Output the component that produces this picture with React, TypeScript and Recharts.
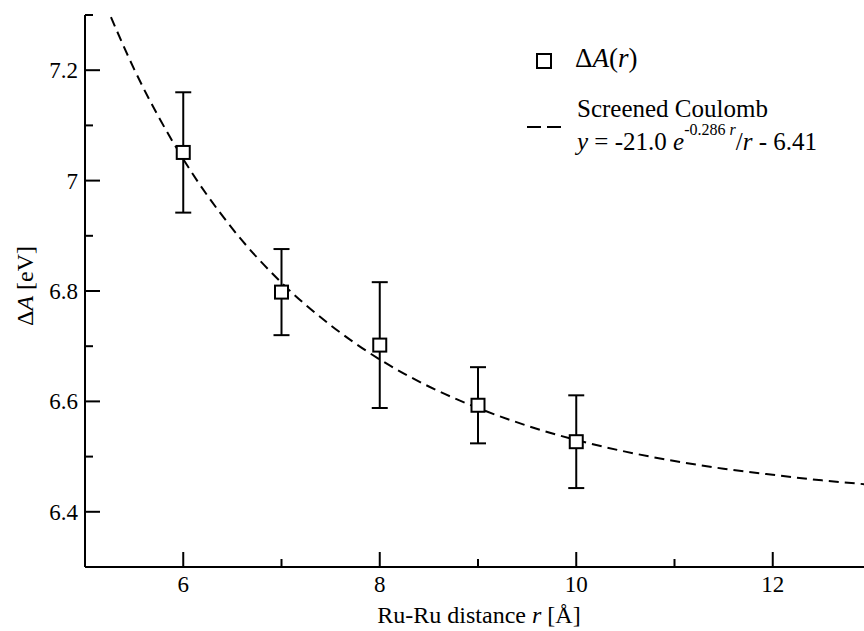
import {
  ComposedChart,
  ErrorBar,
  Line,
  Scatter,
  XAxis,
  YAxis,
} from 'recharts'

// ΔA(r) vs Ru-Ru distance, open squares with error bars, plus the screened
// Coulomb fit as a dashed curve. Grace-style frame: ticks point inward on all
// four sides, the right edge of the frame sits just past the window.

const INK = '#000000'
const SERIF = 'Liberation Serif'

// measured points
const distance = [6, 7, 8, 9, 10]
const deltaA = [7.051, 6.798, 6.702, 6.593, 6.527]
const deltaErr = [0.109, 0.078, 0.114, 0.069, 0.084]

// fit curve
const fitR = [5.2, 5.5, 6, 6.5, 7, 7.5, 8, 8.5, 9, 9.5, 10, 10.5, 11, 11.5, 12, 12.5, 13]
const fitY = [
  7.323, 7.202, 7.039, 6.913, 6.815, 6.738, 6.676, 6.627, 6.588, 6.556, 6.53,
  6.509, 6.492, 6.478, 6.467, 6.457, 6.449,
]

const xTicks = [5, 6, 7, 8, 9, 10, 11, 12, 13]
const yTicks = [6.3, 6.4, 6.5, 6.6, 6.7, 6.8, 6.9, 7.0, 7.1, 7.2, 7.3]

const points = distance.map((r, i) => ({ r, y: deltaA[i], err: deltaErr[i] }))
const fit = fitR.map((r, i) => ({ r, fit: fitY[i] }))

const MAJOR = 15
const MINOR = 8

const isMajorX = (v: number) => v % 2 === 0
const isMajorY = (v: number) => Math.round(v * 10) % 2 === 0
const yLabel = (v: number) => (Number.isInteger(v) ? String(v) : v.toFixed(1))

function BottomTick(p: any) {
  const v = p.payload.value
  const major = isMajorX(v)
  return (
    <g>
      <line x1={p.x} x2={p.x} y1={p.y} y2={p.y - (major ? MAJOR : MINOR)} stroke={INK} strokeWidth={2} />
      {major && (
        <text x={p.x} y={p.y + 25} textAnchor="middle" style={{ fontFamily: SERIF }} fontSize={23} fill={INK}>
          {v}
        </text>
      )}
    </g>
  )
}

function TopTick(p: any) {
  const major = isMajorX(p.payload.value)
  return <line x1={p.x} x2={p.x} y1={p.y} y2={p.y + (major ? MAJOR : MINOR)} stroke={INK} strokeWidth={2} />
}

function LeftTick(p: any) {
  const v = p.payload.value
  const major = isMajorY(v)
  return (
    <g>
      <line x1={p.x} x2={p.x + (major ? MAJOR : MINOR)} y1={p.y} y2={p.y} stroke={INK} strokeWidth={2} />
      {major && (
        <text x={p.x - 7} y={p.y} dy="0.35em" textAnchor="end" style={{ fontFamily: SERIF }} fontSize={23} fill={INK}>
          {yLabel(v)}
        </text>
      )}
    </g>
  )
}

function RightTick(p: any) {
  const major = isMajorY(p.payload.value)
  return <line x1={p.x} x2={p.x - (major ? MAJOR : MINOR)} y1={p.y} y2={p.y} stroke={INK} strokeWidth={2} />
}

function OpenSquare(p: any) {
  const s = 13
  return <rect x={p.cx - s / 2} y={p.cy - s / 2} width={s} height={s} fill="#fff" stroke={INK} strokeWidth={2} />
}

const axisLine = { stroke: INK, strokeWidth: 2 }

const html = (left: number, top: number, size: number): React.CSSProperties => ({
  position: 'absolute',
  left,
  top,
  fontFamily: SERIF,
  fontSize: size,
  lineHeight: 1,
  whiteSpace: 'nowrap',
  color: INK,
})

export default function App() {
  return (
    <div
      style={{
        position: 'fixed',
        left: 0,
        top: 0,
        width: 864,
        height: 631,
        overflow: 'hidden',
        background: '#fff',
      }}
    >
      <ComposedChart
        width={900}
        height={631}
        margin={{ top: 15, right: 29, bottom: 4, left: 25 }}
      >
        <XAxis
          xAxisId="b"
          type="number"
          dataKey="r"
          domain={[5, 13]}
          ticks={xTicks}
          interval={0}
          height={60}
          tickSize={0}
          tickMargin={0}
          tickLine={false}
          axisLine={axisLine}
          tick={<BottomTick />}
        />
        <XAxis
          xAxisId="t"
          orientation="top"
          type="number"
          dataKey="r"
          domain={[5, 13]}
          ticks={xTicks}
          interval={0}
          height={0}
          tickSize={0}
          tickMargin={0}
          tickLine={false}
          axisLine={axisLine}
          tick={<TopTick />}
        />
        <YAxis
          yAxisId="l"
          type="number"
          domain={[6.3, 7.3]}
          ticks={yTicks}
          interval={0}
          allowDataOverflow
          width={60}
          tickSize={0}
          tickMargin={0}
          tickLine={false}
          axisLine={axisLine}
          tick={<LeftTick />}
        />
        <YAxis
          yAxisId="r"
          orientation="right"
          type="number"
          domain={[6.3, 7.3]}
          ticks={yTicks}
          interval={0}
          allowDataOverflow
          width={0}
          tickSize={0}
          tickMargin={0}
          tickLine={false}
          axisLine={axisLine}
          tick={<RightTick />}
        />
        <Scatter
          data={points}
          dataKey="y"
          xAxisId="b"
          yAxisId="l"
          shape={<OpenSquare />}
          isAnimationActive={false}
        >
          <ErrorBar dataKey="err" direction="y" width={8} stroke={INK} strokeWidth={2} />
        </Scatter>
        <Line
          data={fit}
          dataKey="fit"
          xAxisId="b"
          yAxisId="l"
          type="monotone"
          stroke={INK}
          strokeWidth={2}
          strokeDasharray="10 6"
          dot={false}
          activeDot={false}
          isAnimationActive={false}
        />
      </ComposedChart>

      {/* legend symbols */}
      <svg
        width={864}
        height={631}
        style={{ position: 'absolute', left: 0, top: 0, pointerEvents: 'none' }}
      >
        <rect x={537} y={54} width={14} height={14} fill="none" stroke={INK} strokeWidth={2} />
        <line x1={527} x2={561} y1={127} y2={127} stroke={INK} strokeWidth={2} strokeDasharray="14 6" />
      </svg>

      {/* titles and legend text as html */}
      <div style={{ ...html(479, 603, 24), transform: 'translateX(-50%)' }}>
        Ru-Ru distance <i>r</i> [Å]
      </div>
      <div style={{ ...html(25, 286, 24), transform: 'translate(-50%, -50%) rotate(-90deg)' }}>
        Δ<i>A</i> [eV]
      </div>
      <div style={html(575, 45, 27)}>
        Δ<i>A</i>(<i>r</i>)
      </div>
      <div style={html(577, 96, 25)}>Screened Coulomb</div>
      <div style={html(577, 129, 25)}>
        <i>y</i> = -21.0 <i>e</i>
        <span style={{ fontSize: 16, position: 'relative', top: -15 }}>
          -0.286 <i>r</i>
        </span>
        /<i>r</i> - 6.41
      </div>
    </div>
  )
}
